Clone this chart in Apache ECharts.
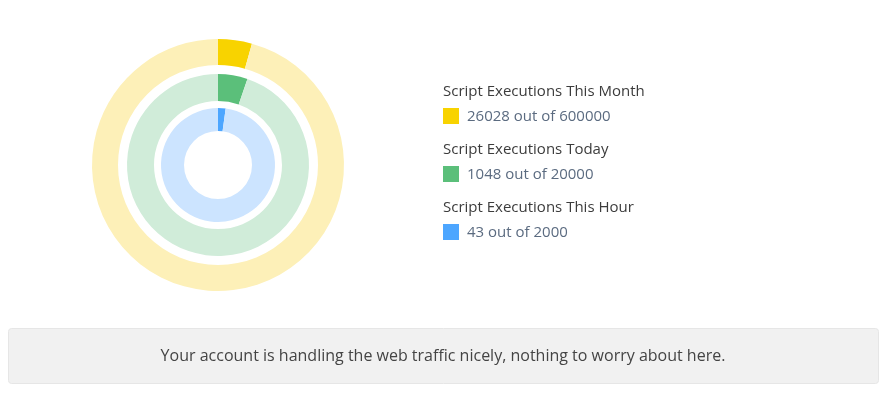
<!DOCTYPE html>
<html>
<head>
<meta charset="utf-8">
<script src="https://cdn.jsdelivr.net/npm/echarts@6/dist/echarts.min.js"></script>
<style>
    html, body { margin: 0; padding: 0; background: #fff; }
    #chart { width: 892px; height: 398px; }
</style>
</head>
<body>
<div id="chart"></div>
<script>
(function (window) {
    'use strict';

    // chart data
    var titles = ['Script Executions This Month', 'Script Executions Today', 'Script Executions This Hour'];
    var used = [26028, 1048, 43];
    var limits = [600000, 20000, 2000];
    var message = 'Your account is handling the web traffic nicely, nothing to worry about here.';

    var strongColors = ['#f8d300', '#5bbf7a', '#4da6ff'];
    var lightColors = ['#fdf0b8', '#d0ecd9', '#cce4ff'];
    var radii = [['100', '126'], ['64', '91'], ['34', '57']];
    var font = '"Open Sans", sans-serif';

    var chart = echarts.init(document.getElementById('chart'));

    var series = [];
    var graphics = [];
    for (var i = 0; i < titles.length; i++) {
        series.push({
            type: 'pie',
            center: [218, 165],
            radius: radii[i],
            startAngle: 90,
            clockwise: true,
            silent: true,
            label: { show: false },
            labelLine: { show: false },
            itemStyle: { borderWidth: 0 },
            emphasis: { disabled: true },
            data: [
                { value: used[i], itemStyle: { color: strongColors[i] } },
                { value: limits[i] - used[i], itemStyle: { color: lightColors[i] } }
            ]
        });

        var cy = 92 + i * 58;
        graphics.push({
            type: 'text', x: 443, y: cy,
            style: { text: titles[i], fill: '#3c3c3c', font: '15px ' + font, verticalAlign: 'middle' }
        });
        graphics.push({
            type: 'rect', left: 443, top: cy + 16,
            shape: { width: 16, height: 16 },
            style: { fill: strongColors[i] }
        });
        graphics.push({
            type: 'text', x: 467, y: cy + 25,
            style: { text: used[i] + ' out of ' + limits[i], fill: '#5b6b80', font: '15px ' + font, verticalAlign: 'middle' }
        });
    }

    graphics.push({
        type: 'rect', left: 8, top: 328,
        shape: { width: 870, height: 55, r: 3 },
        style: { fill: '#f1f1f1', stroke: '#e6e6e6', lineWidth: 1 }
    });
    graphics.push({
        type: 'text', x: 443, y: 356,
        style: { text: message, fill: '#444', font: '16px ' + font, align: 'center', verticalAlign: 'middle' }
    });

    chart.setOption({
        animation: false,
        series: series,
        graphic: graphics
    });
})(window);
</script>
</body>
</html>
